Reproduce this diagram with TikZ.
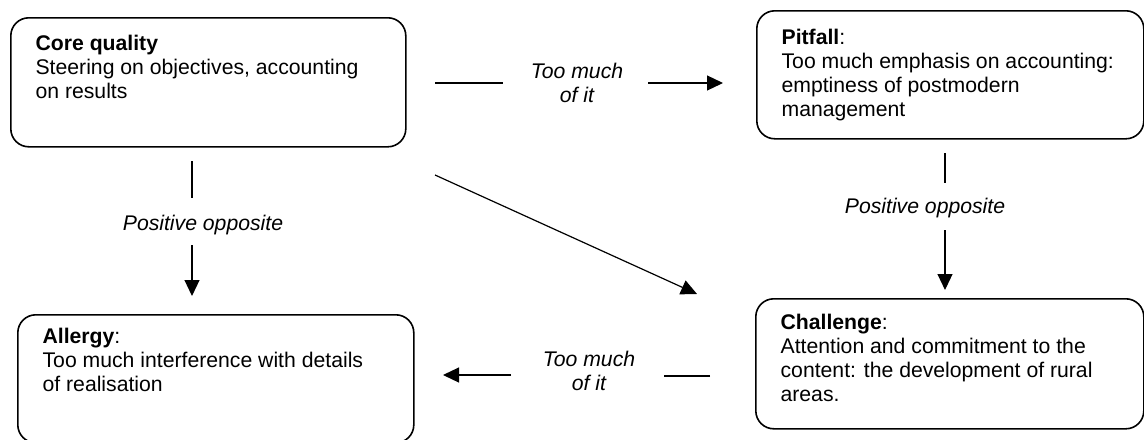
\documentclass[tikz,border=0pt]{standalone}
\usepackage{fontspec}
\setmainfont{Liberation Sans}
\usetikzlibrary{positioning,arrows.meta}

\tikzset{
  box/.style={draw, rounded corners=9pt, line width=0.8pt, anchor=north west, inner sep=0pt},
  boxtext/.style={align=left, inner sep=0pt, font=\fontsize{10.6}{12}\selectfont},
  relation/.style={align=center, inner sep=0pt, anchor=north, font=\fontsize{10.6}{12}\selectfont\itshape},
}

\begin{document}
\begin{tikzpicture}[x=0.5pt, y=-0.5pt, >={Triangle[length=8pt,width=7.5pt]}, line width=0.6pt]
    \useasboundingbox (0,0) rectangle (1144,439);

    % quadrant boxes
    \node[box, minimum width=197.5pt, minimum height=64.5pt] (core)      at (10,17)  {};
    \node[box, minimum width=193.5pt, minimum height=64pt]   (pitfall)   at (756,10) {};
    \node[box, minimum width=198pt,   minimum height=64pt]   (allergy)   at (17,314) {};
    \node[box, minimum width=194pt,   minimum height=65pt]   (challenge) at (755,298) {};

    % box texts
    \node[boxtext, below right=9pt and 12.5pt of core.north west] (core-txt)
        {\textbf{Core quality}\\Steering on objectives, accounting\\on results};
    \node[boxtext, below right=9.5pt and 12.5pt of pitfall.north west] (pitfall-txt)
        {\textbf{Pitfall}:\\Too much emphasis on accounting:\\emptiness of postmodern\\management};
    \node[boxtext, below right=7pt and 12.5pt of allergy.north west] (allergy-txt)
        {\textbf{Allergy}:\\Too much interference with details\\of realisation};
    \node[boxtext, below right=8pt and 12.5pt of challenge.north west] (challenge-txt)
        {\textbf{Challenge}:\\Attention and commitment to the\\content: the development of rural\\areas.};

    % relation labels
    \node[relation] (much-top)    at (577,62.5)  {Too much\\of it};
    \node[relation] (much-bottom) at (589,350.5) {Too much\\of it};
    \node[relation] (opp-left)    at (203,214.5) {Positive opposite};
    \node[relation] (opp-right)   at (925,197.5) {Positive opposite};

    % connector ends
    \coordinate (t1) at (435,83);  \coordinate (t2) at (503,83);
    \coordinate (t3) at (648,83);  \coordinate (t4) at (723,83);
    \coordinate (b1) at (710,376); \coordinate (b2) at (664,376);
    \coordinate (b3) at (511,375); \coordinate (b4) at (443,375);
    \coordinate (l1) at (192,161); \coordinate (l2) at (192,198);
    \coordinate (l3) at (192,245); \coordinate (l4) at (192,296);
    \coordinate (r1) at (945,153); \coordinate (r2) at (945,183);
    \coordinate (r3) at (945,230); \coordinate (r4) at (945,290);
    \coordinate (d1) at (435,175); \coordinate (d2) at (697,294);

    % connectors
    \draw (t1) -- (t2);
    \draw[->] (t3) -- (t4);
    \draw (b1) -- (b2);
    \draw[->] (b3) -- (b4);
    \draw (l1) -- (l2);
    \draw[->] (l3) -- (l4);
    \draw (r1) -- (r2);
    \draw[->] (r3) -- (r4);
    \draw[->] (d1) -- (d2);
\end{tikzpicture}
\end{document}
